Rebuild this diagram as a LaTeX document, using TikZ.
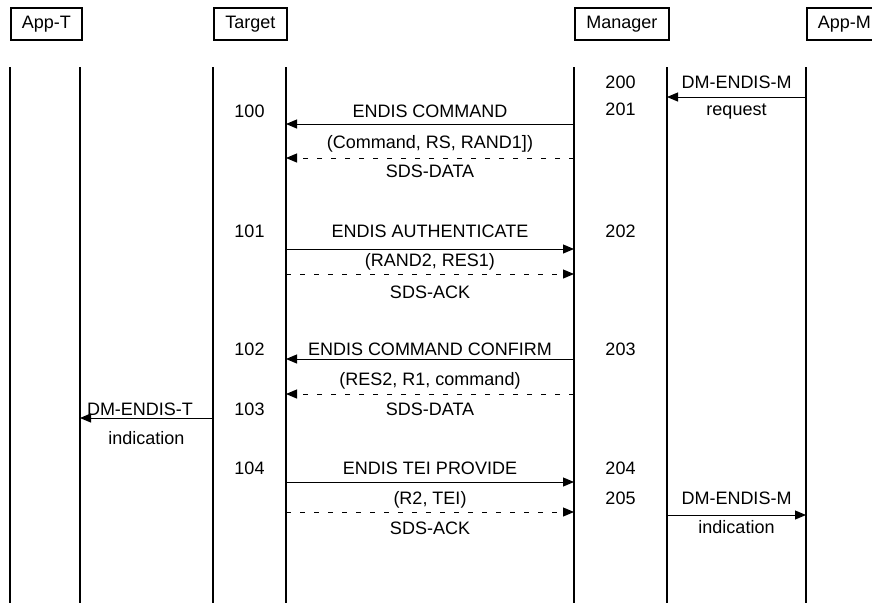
\documentclass[tikz,border=0pt]{standalone}
\usepackage{fontspec}
\setmainfont{Liberation Sans}
\usetikzlibrary{arrows.meta,positioning}
\tikzset{
  >={Triangle[length=11pt,width=9pt]},
  actor/.style={draw, line width=1.6pt, anchor=north west, minimum height=32pt,
              inner sep=0pt, font=\fontsize{18}{20}\selectfont},
  life/.style={line width=1.8pt},
  msg/.style={->, line width=1pt},
  sds/.style={->, line width=1pt, dash pattern=on 5pt off 9pt},
  lbl/.style={anchor=base, inner sep=0pt, font=\fontsize{18}{20}\selectfont},
}
\begin{document}
\begin{tikzpicture}[x=1pt,y=-1pt]
  \clip (0,0) rectangle (872,603);
  % entities
  \node[actor,minimum width=71pt] (appT) at (10,7) {App-T};
  \node[actor,minimum width=73pt] (tgt) at (213,7) {Target};
  \node[actor,minimum width=94pt] (mgr) at (574,7) {Manager};
  \node[actor,minimum width=75pt] (appM) at (806,7) {App-M};
  % lifelines
  \foreach \n/\x in {atL/10,atR/80,tgL/213,tgR/286,mgL/574,mgR/667,amL/806}{
    \coordinate (\n) at (\x,67);
    \coordinate (\n-end) at (\x,603);
    \draw[life] (\n) -- (\n-end);
  }
  % primitives and PDUs
  \draw[msg] (amL |- 0,97)  -- (mgR |- 0,97);
  \draw[msg] (mgL |- 0,124) -- (tgR |- 0,124);
  \draw[sds] (mgL |- 0,158) -- (tgR |- 0,158);
  \draw[msg] (tgR |- 0,249) -- (mgL |- 0,249);
  \draw[sds] (tgR |- 0,274) -- (mgL |- 0,274);
  \draw[msg] (mgL |- 0,359) -- (tgR |- 0,359);
  \draw[sds] (mgL |- 0,394) -- (tgR |- 0,394);
  \draw[msg] (tgL |- 0,418) -- (atR |- 0,418);
  \draw[msg] (tgR |- 0,482) -- (mgL |- 0,482);
  \draw[sds] (tgR |- 0,512) -- (mgL |- 0,512);
  \draw[msg] (mgR |- 0,515) -- (amL |- 0,515);
  % labels
  \foreach \x/\y/\t [count=\i] in {430/117/{ENDIS COMMAND}, 430/148/{(Command, RS, RAND1])},
      430/177/{SDS-DATA}, 430/237/{ENDIS AUTHENTICATE}, 430/266/{(RAND2, RES1)},
      430/298/{SDS-ACK}, 430/355/{ENDIS COMMAND CONFIRM}, 430/385/{(RES2, R1, command)},
      430/415/{SDS-DATA}, 430/474/{ENDIS TEI PROVIDE}, 430/504/{(R2, TEI)},
      430/534/{SDS-ACK}, 140/415/{DM-ENDIS-T}, 146.5/444/{indication},
      736.5/88/{DM-ENDIS-M}, 736.5/115/{request}, 736.5/504/{DM-ENDIS-M},
      736.5/533/{indication}}
    \node[lbl] (txt\i) at (\x,\y) {\t};
  % step numbers
  \foreach \n/\x/\y in {100/249.5/117, 101/249.5/237, 102/249.5/355, 103/249.5/415,
      104/249.5/474, 200/620.5/88, 201/620.5/115, 202/620.5/237, 203/620.5/355,
      204/620.5/474, 205/620.5/504}
    \node[lbl] (n\n) at (\x,\y) {\n};
\end{tikzpicture}
\end{document}
